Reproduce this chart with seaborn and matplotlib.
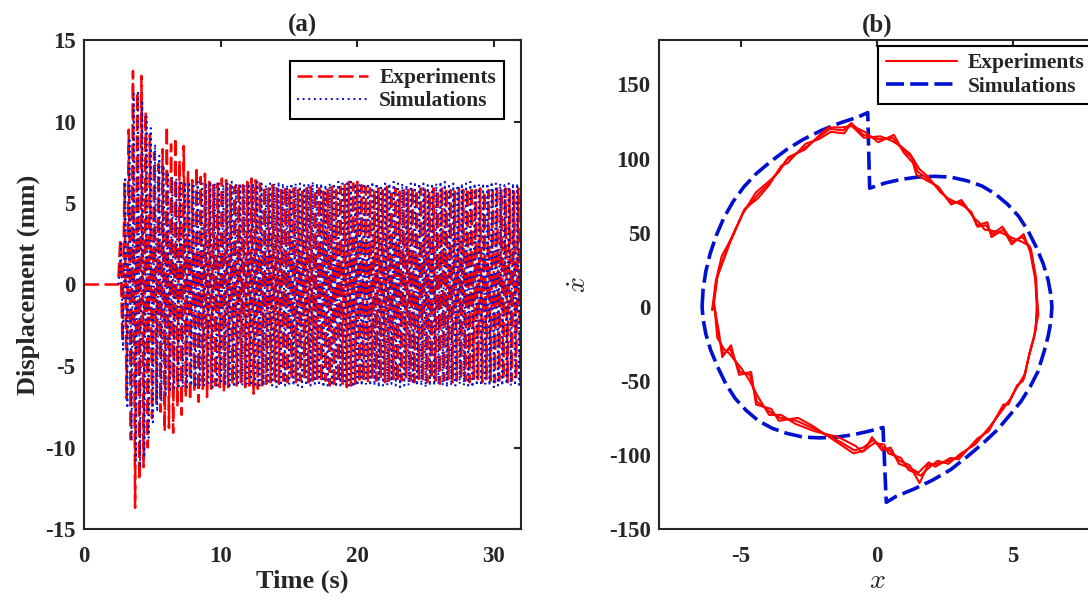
import numpy as np
import pandas as pd
import matplotlib
matplotlib.use('Agg')
import matplotlib.pyplot as plt
import seaborn as sns

# ---------------- (a) displacement history, turning points in mm ----------------
exp_start, exp_period = 2.5, 0.31     # s
sim_start, sim_period = 2.55, 0.312   # s

exp_peaks = [2.8, 6.2, 9.5, 13.1, 11.8, 12.8, 10.6, 9.2, 8.1, 7.4, 8.3, 9.7, 8.6, 9.0, 7.6, 8.5, 6.9, 6.4, 7.2, 6.6,
             6.8, 6.3, 6.1, 6.2, 6.5, 6.4, 6.1, 6.0, 6.2, 6.1, 6.3,
             6.5, 6.4, 6.2, 6.0, 5.9, 6.1, 5.9, 5.8, 6.0, 5.8,
             5.9, 5.8, 5.7, 5.9, 6.0, 5.8, 5.9, 5.7, 5.9, 6.0,
             5.8, 6.0, 6.1, 6.3, 6.2, 6.3, 6.1, 6.0, 5.9, 5.8,
             5.9, 5.8, 6.0, 5.8, 5.9, 5.7, 5.9, 5.8, 6.0, 5.8,
             5.9, 5.8, 5.7, 5.9, 5.8, 6.0, 5.9, 5.8, 5.7, 5.9,
             5.8, 5.9, 6.0, 5.8, 5.9, 5.7, 5.8, 5.9, 6.0, 5.8, 5.9, 5.8, 5.7, 5.9]
exp_troughs = [-3.5, -7.0, -9.5, -13.7, -12.0, -11.2, -10.0, -8.2, -7.3, -7.8, -9.0, -8.8, -9.1, -7.5, -8.0, -6.9, -7.1, -6.6, -7.2, -6.4,
               -6.9, -6.4, -6.2, -6.3, -6.6, -6.3, -6.1, -6.2, -6.0, -6.3, -6.2,
               -6.7, -6.4, -6.2, -6.1, -6.0, -5.9, -6.1, -5.9, -6.0, -5.8,
               -6.0, -5.9, -5.8, -6.0, -5.9, -5.8, -6.0, -5.9, -6.2, -6.3,
               -6.0, -6.1, -6.3, -6.2, -6.1, -6.0, -5.9, -6.0, -5.8, -5.9,
               -5.8, -6.0, -5.9, -5.8, -6.0, -5.9, -5.7, -5.9, -6.0, -5.8,
               -5.9, -6.0, -5.8, -5.9, -6.1, -5.9, -5.8, -6.0, -5.9, -5.8,
               -5.9, -6.0, -5.8, -5.9, -6.0, -5.8, -5.9, -6.0, -5.9, -5.8, -6.0, -5.9, -5.8, -6.0]
sim_peaks = [2.5, 6.6, 9.0, 11.7, 11.9, 11.3, 10.3, 9.6, 8.6, 7.9, 7.3, 6.9, 6.6, 6.5, 6.4, 6.3, 6.3, 6.2, 6.3, 6.2,
             6.2, 6.3, 6.2, 6.2, 6.1, 6.2, 6.3, 6.2, 6.2, 6.1, 6.2,
             6.2, 6.3, 6.2, 6.1, 6.2, 6.2, 6.3, 6.2, 6.1, 6.2,
             6.2, 6.2, 6.1, 6.2, 6.3, 6.2, 6.2, 6.1, 6.2, 6.2,
             6.3, 6.2, 6.2, 6.3, 6.2, 6.1, 6.2, 6.2, 6.3, 6.2,
             6.1, 6.2, 6.2, 6.3, 6.2, 6.2, 6.1, 6.2, 6.3, 6.2,
             6.2, 6.1, 6.2, 6.2, 6.3, 6.3, 6.2, 6.2, 6.1, 6.2,
             6.2, 6.3, 6.2, 6.1, 6.2, 6.2, 6.3, 6.2, 6.2, 6.1, 6.2, 6.2, 6.2, 6.3]
sim_troughs = [-4.0, -7.6, -9.6, -10.8, -11.2, -10.6, -9.4, -8.6, -7.8, -7.2, -6.9, -6.6, -6.5, -6.4, -6.3, -6.3, -6.2, -6.3, -6.2, -6.2,
               -6.2, -6.3, -6.2, -6.1, -6.2, -6.2, -6.3, -6.2, -6.2, -6.1, -6.2,
               -6.3, -6.2, -6.2, -6.1, -6.2, -6.3, -6.2, -6.2, -6.1, -6.2,
               -6.2, -6.3, -6.2, -6.2, -6.1, -6.2, -6.3, -6.2, -6.2, -6.3,
               -6.2, -6.1, -6.2, -6.3, -6.2, -6.2, -6.1, -6.2, -6.2, -6.3,
               -6.2, -6.2, -6.1, -6.2, -6.3, -6.2, -6.2, -6.1, -6.2, -6.2,
               -6.3, -6.2, -6.2, -6.1, -6.2, -6.3, -6.2, -6.2, -6.1, -6.2,
               -6.2, -6.3, -6.2, -6.2, -6.1, -6.2, -6.3, -6.2, -6.2, -6.1, -6.2, -6.2, -6.3, -6.2]

# ---------------- (b) phase portrait: x (mm) vs xdot (mm/s) ----------------
sim_x = [-6.42, -6.38, -6.28, -6.12, -5.90, -5.62, -5.28, -4.88, -4.42, -3.90, -3.32, -2.70, -2.04, -1.36, -0.70, -0.34,
         -0.27, 0.30, 0.90, 1.50, 2.10, 2.70, 3.30, 3.85, 4.35, 4.80, 5.20, 5.55, 5.85, 6.10, 6.28, 6.38, 6.42,
         6.38, 6.28, 6.12, 5.90, 5.62, 5.28, 4.88, 4.42, 3.90, 3.32, 2.70, 2.04, 1.36, 0.70, 0.34,
         0.22, -0.30, -0.90, -1.50, -2.10, -2.70, -3.30, -3.85, -4.35, -4.80, -5.20, -5.55, -5.85, -6.10, -6.28, -6.38, -6.42]
sim_v = [0, 12, 24, 36, 48, 60, 71, 81, 90, 98, 106, 113, 119, 124, 128, 131,
         80, 83.5, 86, 87.5, 88, 87.5, 85, 81.5, 76, 69, 61, 51, 40, 29, 18, 8, 0,
         -10, -20, -31, -44, -54, -64, -73, -83, -92, -101, -110, -117, -123, -128, -132,
         -81.5, -84, -86.5, -88, -88.5, -88, -85.5, -82, -77, -70, -62, -52, -40.5, -29.5, -18.5, -8.5, 0]

exp_x1 = [-6.00, -5.88, -5.64, -5.40, -4.90, -4.41, -3.93, -3.56, -3.32, -2.59, -2.10, -1.73, -1.24, -0.94, -0.51,
          0.10, 0.57, 0.94, 1.26, 1.50, 1.90, 2.30, 2.66, 3.14, 3.50, 3.69, 4.00, 4.24, 4.60, 4.97,
          5.34, 5.65, 5.84, 5.89, 5.78, 5.59, 5.40, 5.10, 4.86, 4.60, 4.13, 3.64, 3.03, 2.66, 2.18,
          1.87, 1.56, 1.20, 0.83, 0.46, 0.22, -0.14, -0.50, -0.82, -1.37, -2.35, -2.95, -3.56, -3.92, -4.41,
          -4.66, -5.03, -5.40, -5.64, -5.82, -5.94, -6.00]
exp_v1 = [1, 19, 32, 44, 64, 75, 84, 93, 99, 108, 115, 120, 119, 124, 116,
          113, 114, 106, 101, 91, 86, 79, 71, 70, 62, 54, 55, 49, 54, 44,
          47, 39, 19, -3, -19, -32, -48, -55, -64, -68, -82, -91, -101, -104, -106,
          -107, -119, -107, -104, -97, -95, -90, -95, -97, -91, -82, -77, -75, -71, -64,
          -46, -44, -28, -32, -19, -3, 1]
exp_x2 = [-6.05, -5.92, -5.70, -5.35, -4.95, -4.45, -3.88, -3.60, -3.25, -2.65, -2.05, -1.78, -1.30, -0.90, -0.45,
          0.05, 0.62, 0.98, 1.32, 1.45, 1.95, 2.25, 2.72, 3.10, 3.55, 3.74, 3.95, 4.30, 4.55, 5.02,
          5.30, 5.60, 5.80, 5.86, 5.82, 5.55, 5.44, 5.05, 4.90, 4.55, 4.18, 3.60, 3.08, 2.62, 2.22,
          1.82, 1.60, 1.15, 0.88, 0.42, 0.26, -0.10, -0.55, -0.78, -1.42, -2.30, -3.00, -3.52, -3.96, -4.36,
          -4.70, -5.00, -5.45, -5.60, -5.86, -5.96, -6.05]
exp_v2 = [-2, 17, 34, 46, 62, 77, 86, 91, 101, 106, 117, 121, 121, 122, 118,
          111, 116, 104, 97, 89, 84, 81, 69, 72, 60, 57, 52, 51, 50, 46,
          44, 41, 22, 0, -16, -35, -45, -57, -62, -71, -80, -93, -99, -106, -104,
          -110, -114, -110, -102, -99, -93, -92, -98, -94, -88, -84, -79, -73, -73, -61,
          -49, -41, -31, -29, -21, -1, -2]
exp_x3 = [-5.98, -5.85, -5.66, -5.42, -4.86, -4.38, -3.96, -3.52, -3.28, -2.62, -2.14, -1.70, -1.20, -0.98, -0.48,
          0.12, 0.54, 0.90, 1.22, 1.55, 1.86, 2.34, 2.62, 3.18, 3.46, 3.66, 4.05, 4.20, 4.64, 4.94,
          5.38, 5.62, 5.82, 5.92, 5.76, 5.62, 5.36, 5.14, 4.82, 4.64, 4.10, 3.68, 3.00, 2.70, 2.14,
          1.90, 1.52, 1.24, 0.80, 0.50, 0.18, -0.18, -0.46, -0.86, -1.34, -2.40, -2.90, -3.60, -3.88, -4.44,
          -4.62, -5.06, -5.36, -5.68, -5.80, -5.92, -5.98]
exp_v3 = [3, 21, 30, 42, 66, 73, 82, 95, 97, 110, 113, 118, 117, 123, 114,
          115, 112, 108, 103, 93, 88, 77, 73, 68, 64, 55, 57, 47, 52, 42,
          49, 37, 17, -5, -21, -30, -50, -53, -66, -66, -84, -89, -103, -102, -108,
          -105, -112, -109, -106, -95, -97, -88, -97, -99, -93, -80, -75, -77, -69, -66,
          -44, -46, -26, -34, -17, -5, 3]


def turning_series(start, period, peaks, troughs):
    vals = np.column_stack([peaks, troughs]).ravel()
    t = start + period / 2 * np.arange(1, len(vals) + 1)
    return pd.DataFrame({'t': np.r_[start, t], 'd': np.r_[0.0, vals]})


exp_df = turning_series(exp_start, exp_period, exp_peaks, exp_troughs)
exp_df = pd.concat([pd.DataFrame({'t': [0.0], 'd': [0.0]}), exp_df], ignore_index=True)
sim_df = turning_series(sim_start, sim_period, sim_peaks, sim_troughs)

sns.set_style('white')
plt.rcParams['font.family'] = ['Liberation Serif', 'DejaVu Serif']
plt.rcParams['font.weight'] = 'bold'
plt.rcParams['mathtext.fontset'] = 'cm'
plt.rcParams['axes.unicode_minus'] = False

ink = '#262626'
red = '#ff0000'
blue = '#0010d0'

fig = plt.figure(figsize=(10.88, 6.04), dpi=100)
ax1 = fig.add_axes([84 / 1088, 75 / 604, 437 / 1088, 489 / 604])
ax2 = fig.add_axes([659 / 1088, 75 / 604, 436 / 1088, 489 / 604])

# (a)
sns.lineplot(data=exp_df, x='t', y='d', ax=ax1, sort=False, estimator=None, color=red,
             lw=1.8, linestyle=(0, (6.0, 2.2)), label='Experiments')
sns.lineplot(data=sim_df, x='t', y='d', ax=ax1, sort=False, estimator=None, color=blue,
             lw=1.4, linestyle=(0, (1, 1.9)), label='Simulations')
ax1.set_xlim(0, 32)
ax1.set_ylim(-15, 15)
ax1.set_xticks([0, 10, 20, 30])
ax1.set_yticks([-15, -10, -5, 0, 5, 10, 15])
ax1.set_xlabel('Time (s)', fontsize=19, fontweight='bold', labelpad=2)
ax1.set_ylabel('Displacement (mm)', fontsize=19, fontweight='bold', labelpad=4)
ax1.set_title('(a)', fontsize=18, fontweight='bold', pad=6)
ax1.legend(loc='upper right', bbox_to_anchor=(0.96, 0.958), frameon=True,
           fancybox=False, edgecolor='black', framealpha=1, borderaxespad=0,
           handlelength=3.3, handletextpad=0.5, labelspacing=0.15, borderpad=0.35,
           prop={'weight': 'bold', 'size': 15.5})

# (b)
sns.lineplot(x=sim_x, y=sim_v, ax=ax2, sort=False, estimator=None, color=blue,
             lw=2.6, linestyle=(0, (5, 1.7)), label='Simulations', zorder=2)
for lx, lv in [(exp_x1, exp_v1), (exp_x2, exp_v2), (exp_x3, exp_v3)]:
    sns.lineplot(x=lx, y=lv, ax=ax2, sort=False, estimator=None, color=red, lw=1.5, zorder=3)
ax2.set_xlim(-8, 8)
ax2.set_ylim(-150, 180)
ax2.set_xticks([-5, 0, 5])
ax2.set_yticks([-150, -100, -50, 0, 50, 100, 150])
ax2.set_xlabel(r'$x$', fontsize=20, labelpad=2)
ax2.set_ylabel(r'$\dot{x}$', fontsize=20, labelpad=12)
ax2.set_title('(b)', fontsize=18, fontweight='bold', pad=6)
h = ax2.get_lines()
ax2.legend([h[1], h[0]], ['Experiments', 'Simulations'], loc='upper left',
           bbox_to_anchor=(0.503, 0.988), frameon=True, fancybox=False, edgecolor='black',
           framealpha=1, borderaxespad=0, handlelength=3.3, handletextpad=0.5,
           labelspacing=0.15, borderpad=0.35, prop={'weight': 'bold', 'size': 15.5})

for ax in (ax1, ax2):
    ax.tick_params(direction='in', top=True, right=True, length=5, width=1.5,
                   labelsize=16.5, colors=ink)
    ax.tick_params(axis='x', pad=12)
    ax.tick_params(axis='y', pad=6)
    for s in ax.spines.values():
        s.set_linewidth(1.5)
        s.set_color(ink)
        s.set_visible(True)
    ax.xaxis.label.set_color(ink)
    ax.yaxis.label.set_color(ink)
    ax.legend_.get_frame().set_linewidth(1.5)

fig.savefig('out.png', dpi=100)
